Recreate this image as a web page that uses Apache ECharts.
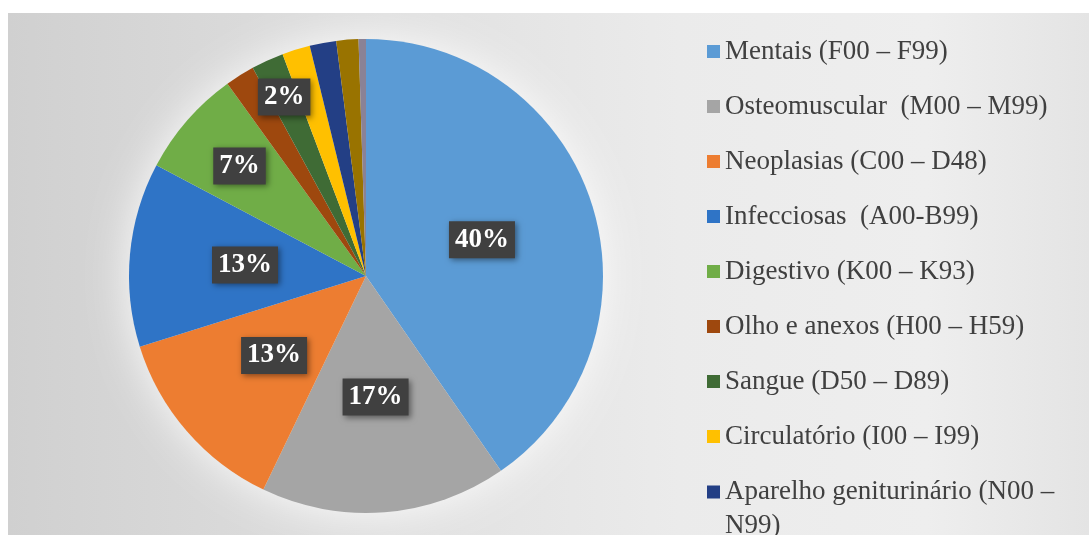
<!DOCTYPE html>
<html>
<head>
<meta charset="utf-8">
<script src="https://cdn.jsdelivr.net/npm/echarts@6/dist/echarts.min.js"></script>
<style>
  html, body { margin: 0; padding: 0; background: #ffffff; }
  #chart { width: 1089px; height: 535px; }
</style>
</head>
<body>
<div id="chart"></div>
<script>
// ---- data ----
var categories = [
  'Mentais (F00 – F99)',
  'Osteomuscular  (M00 – M99)',
  'Neoplasias (C00 – D48)',
  'Infecciosas  (A00-B99)',
  'Digestivo (K00 – K93)',
  'Olho e anexos (H00 – H59)',
  'Sangue (D50 – D89)',
  'Circulatório (I00 – I99)',
  'Aparelho geniturinário (N00 – N99)',
  'Outros',
  'Demais'
];
var values = [40.2, 16.7, 13.0, 12.5, 7.3, 2.0, 2.2, 1.9, 1.8, 1.5, 0.5];
var colors = ['#5b9bd5', '#a5a5a5', '#ed7d31', '#2f74c6', '#70ad47', '#9e480e',
              '#3f6b35', '#ffc000', '#233f85', '#997300', '#8a8296'];
var labelShown = [true, true, true, true, true, false, true, false, false, false, false];
var labelPush = [1, 1, 1, 1, 1.38, 1, 1.62, 1, 1, 1, 1];
var legendMain = categories.slice(0, 8);
var legendLast = [categories[8]];

var CX = 366, CY = 276, R = 237;

var chart = echarts.init(document.getElementById('chart'), null, { renderer: 'canvas' });

var pieData = categories.map(function (name, i) {
  return {
    name: name,
    value: values[i],
    itemStyle: { color: colors[i] },
    label: { show: labelShown[i] }
  };
});

var legendText = {
  fontFamily: 'Liberation Serif, Times New Roman, serif',
  fontSize: 27,
  color: '#404040'
};

chart.setOption({
  animation: false,
  backgroundColor: '#ffffff',
  graphic: [
    {
      type: 'rect', z: -10, silent: true,
      shape: { x: 8, y: 13, width: 1081, height: 522 },
      style: {
        fill: {
          type: 'linear', x: 0, y: 0, x2: 1, y2: 0,
          colorStops: [
            { offset: 0, color: '#d0d0d0' },
            { offset: 0.35, color: '#e0e0e0' },
            { offset: 0.62, color: '#ebebeb' },
            { offset: 0.85, color: '#eeeeee' },
            { offset: 1, color: '#e4e4e4' }
          ]
        }
      }
    },
    {
      type: 'circle', z: -9, silent: true,
      shape: { cx: CX, cy: CY, r: R - 2 },
      style: { fill: '#f2f2f2', shadowBlur: 45, shadowColor: 'rgba(255,255,255,0.95)' }
    }
  ],
  legend: [
    {
      orient: 'vertical',
      left: 707, top: 34,
      padding: 0,
      itemWidth: 13, itemHeight: 13,
      itemGap: 20,
      icon: 'rect',
      data: legendMain,
      textStyle: Object.assign({ lineHeight: 35 }, legendText)
    },
    {
      orient: 'vertical',
      left: 707, top: 441,
      padding: 0,
      itemWidth: 13, itemHeight: 13,
      icon: 'rect',
      data: legendLast,
      formatter: function () { return ' \nAparelho geniturinário (N00 –\nN99)'; },
      textStyle: Object.assign({ lineHeight: 34 }, legendText)
    }
  ],
  series: [
    {
      type: 'pie',
      center: [CX, CY],
      radius: [0, R],
      startAngle: 90,
      clockwise: true,
      avoidLabelOverlap: false,
      data: pieData,
      itemStyle: { borderWidth: 0 },
      label: {
        position: 'inside',
        formatter: function (p) { return Math.round(p.percent) + '%'; },
        fontFamily: 'Liberation Serif, Times New Roman, serif',
        fontWeight: 'bold',
        fontSize: 27,
        lineHeight: 31,
        color: '#ffffff',
        backgroundColor: '#404040',
        padding: [3, 6, 3, 6],
        shadowBlur: 6,
        shadowOffsetX: 2,
        shadowOffsetY: 2,
        shadowColor: 'rgba(0,0,0,0.45)'
      },
      labelLine: { show: false },
      labelLayout: function (p) {
        var f = labelPush[p.dataIndex];
        if (f === 1) return {};
        var lx = p.labelRect.x + p.labelRect.width / 2;
        var ly = p.labelRect.y + p.labelRect.height / 2;
        return { x: CX + (lx - CX) * f, y: CY + (ly - CY) * f };
      },
      emphasis: { disabled: true }
    }
  ]
});
</script>
</body>
</html>
